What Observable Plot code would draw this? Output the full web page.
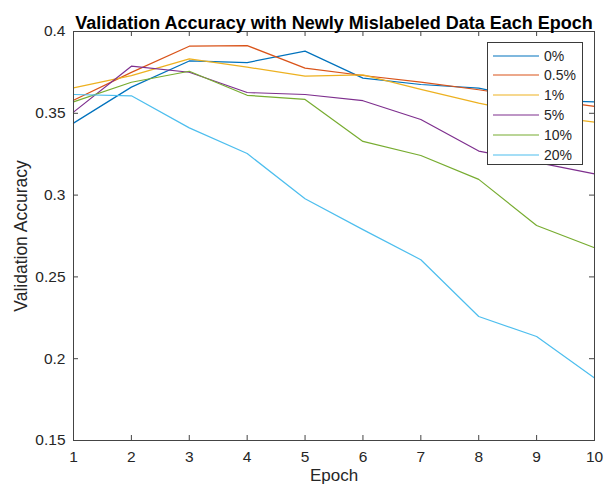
<!DOCTYPE html>
<html><head><meta charset="utf-8">
<script src="https://cdn.jsdelivr.net/npm/d3@7"></script>
<script src="https://cdn.jsdelivr.net/npm/@observablehq/plot@0.6"></script>
<style>
body{margin:0;background:#fff;font-family:"Liberation Sans",Arial,sans-serif;}
#wrap{position:relative;width:611px;height:492px;}
#legend{position:absolute;left:487px;top:42px;width:94px;height:121px;border:1px solid #3a3a3a;background:#fff;}
.lrow{position:absolute;left:0;height:20px;display:flex;align-items:center;}
.lrow span{font-size:14px;color:#262626;margin-left:5px;}
</style></head><body><div id="wrap"></div>
<script>
const epochs = [1, 2, 3, 4, 5, 6, 7, 8, 9, 10];
const seriesNames = ["0%", "0.5%", "1%", "5%", "10%", "20%"];
const seriesColors = ["#0072BD", "#D95319", "#EDB120", "#7E2F8E", "#77AC30", "#4DBEEE"];
const acc0   = [0.344, 0.366, 0.382, 0.381, 0.388, 0.3715, 0.3676, 0.3654, 0.358, 0.357];
const acc05  = [0.358, 0.375, 0.391, 0.3914, 0.3776, 0.3731, 0.369, 0.3644, 0.359, 0.3542];
const acc1   = [0.3655, 0.373, 0.3833, 0.3782, 0.3727, 0.3735, 0.3646, 0.3562, 0.349, 0.3446];
const acc5   = [0.3507, 0.3788, 0.3751, 0.3627, 0.3615, 0.3577, 0.3462, 0.3269, 0.320, 0.313];
const acc10  = [0.357, 0.369, 0.3757, 0.361, 0.3585, 0.3328, 0.3242, 0.3096, 0.2814, 0.2678];
const acc20  = [0.3615, 0.3607, 0.3411, 0.3254, 0.2978, 0.2789, 0.2605, 0.2258, 0.2136, 0.1882];
const xTicks = [1, 2, 3, 4, 5, 6, 7, 8, 9, 10];
const yTicks = [0.15, 0.2, 0.25, 0.3, 0.35, 0.4];
const titleText = "Validation Accuracy with Newly Mislabeled Data Each Epoch";
const xLabel = "Epoch";
const yLabel = "Validation Accuracy";

const allSeries = [acc0, acc05, acc1, acc5, acc10, acc20];
const rows = allSeries.flatMap((vals, i) => vals.map((v, j) => ({epoch: epochs[j], acc: v, series: seriesNames[i]})));

const W = 611, H = 492, mL = 73, mR = 17, mT = 31, mB = 52;
const fw = W - mL - mR, fh = H - mT - mB, tk = 5;
const axisColor = "#444";
const font = "Liberation Sans, Arial, Helvetica, sans-serif";

const chart = Plot.plot({
  width: W, height: H,
  marginLeft: mL, marginRight: mR, marginTop: mT, marginBottom: mB,
  style: {fontFamily: font, background: "#fff", color: "#262626", overflow: "visible"},
  x: {domain: [1, 10]},
  y: {domain: [0.15, 0.4]},
  color: {domain: seriesNames, range: seriesColors},
  marks: [
    Plot.line(rows, {x: "epoch", y: "acc", stroke: "series", strokeWidth: 1.2}),
    Plot.frame({stroke: axisColor}),
    Plot.tickX(xTicks, {x: d => d, insetTop: fh - tk, stroke: axisColor}),
    Plot.tickX(xTicks, {x: d => d, insetBottom: fh - tk, stroke: axisColor}),
    Plot.tickY(yTicks, {y: d => d, insetRight: fw - tk, stroke: axisColor}),
    Plot.tickY(yTicks, {y: d => d, insetLeft: fw - tk, stroke: axisColor}),
    Plot.axisX(xTicks, {tickSize: 0, tickPadding: 10, fontSize: 15.5, label: null, tickFormat: d => String(d), fill: "#262626"}),
    Plot.axisY(yTicks, {tickSize: 0, tickPadding: 8, fontSize: 15.5, label: null, tickFormat: d => String(d), fill: "#262626"}),
    Plot.text([xLabel], {text: d => d, frameAnchor: "bottom", textAnchor: "middle", dy: 40, fontSize: 17, fill: "#262626"}),
    Plot.text([yLabel], {text: d => d, frameAnchor: "left", textAnchor: "middle", rotate: -90, dx: -52, fontSize: 17.5, fill: "#262626"}),
    Plot.text([titleText], {text: d => d, frameAnchor: "top", textAnchor: "middle", dy: -15, fontSize: 18, fontWeight: "bold", fill: "#000"})
  ]
});
const wrap = document.getElementById("wrap");
wrap.appendChild(chart);

const legend = d3.select(wrap).append("div").attr("id", "legend");
seriesNames.forEach((name, i) => {
  const row = legend.append("div").attr("class", "lrow").style("top", (2.5 + i * 19.8) + "px");
  const svg = row.append("svg").attr("width", 51).attr("height", 20);
  svg.append("line").attr("x1", 5).attr("x2", 51).attr("y1", 10).attr("y2", 10)
    .attr("stroke", seriesColors[i]).attr("stroke-width", 1.2);
  row.append("span").text(name);
});
</script>
</body></html>
